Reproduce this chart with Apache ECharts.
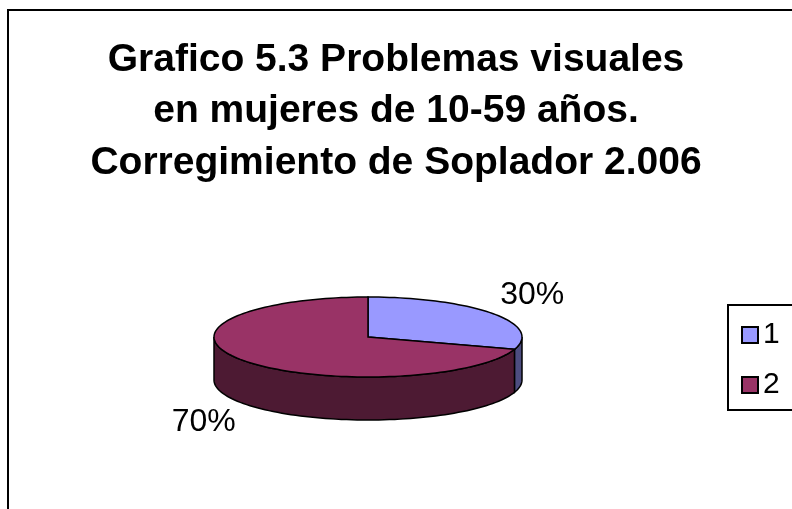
<!DOCTYPE html>
<html>
<head>
<meta charset="utf-8">
<script src="https://cdn.jsdelivr.net/npm/echarts@6/dist/echarts.min.js"></script>
<style>
  html, body { margin: 0; padding: 0; background: #fff; }
  #chart { width: 792px; height: 509px; }
</style>
</head>
<body>
<div id="chart"></div>
<script>
// chart data
const categories = ['1', '2'];
const values = [30, 70];
const topColors = ['#9999FF', '#993366'];
const sideColors = ['#4D4D80', '#4D1A33'];

const titleText = 'Grafico 5.3 Problemas visuales\nen mujeres de 10-59 años.\nCorregimiento de Soplador 2.006';

const total = values.reduce((a, b) => a + b, 0);
let acc = 0;
const slices = values.map(v => {
  const s = acc / total;
  acc += v;
  return [s, v / total];
});

// pie geometry (pixels)
const cx = 368, cy = 337, rx = 154, ry = 40, depth = 43;
const FONT = '"Liberation Sans", Arial, sans-serif';

function pt(deg, dy) {
  const a = deg * Math.PI / 180;
  return [cx + rx * Math.sin(a), cy - ry * Math.cos(a) + (dy || 0)];
}

function arc(from, to, dy) {
  const pts = [];
  const n = Math.max(2, Math.ceil(Math.abs(to - from) / 2));
  for (let i = 0; i <= n; i++) {
    pts.push(pt(from + (to - from) * i / n, dy));
  }
  return pts;
}

function makeRender(idx) {
  return function (params, api) {
    const a0 = api.value(0) * 360;
    const a1 = a0 + api.value(1) * 360;
    const children = [];
    // front side wall (only 90..270 visible)
    const s0 = Math.max(a0, 90), s1 = Math.min(a1, 270);
    if (s1 > s0) {
      const top = arc(s0, s1, 0);
      const bot = arc(s1, s0, depth);
      children.push({
        type: 'polygon',
        z2: 1,
        shape: { points: top.concat(bot) },
        style: { fill: sideColors[idx], stroke: '#000', lineWidth: 1.5 }
      });
    }
    // top face
    children.push({
      type: 'polygon',
      z2: 10,
      shape: { points: [[cx, cy]].concat(arc(a0, a1, 0)) },
      style: { fill: topColors[idx], stroke: '#000', lineWidth: 1.5 }
    });
    // label
    const mid = (a0 + a1) / 2 * Math.PI / 180;
    const lx = cx + 203 * Math.sin(mid);
    let ly = cy - 72 * Math.cos(mid);
    if (Math.cos(mid) < 0) ly += depth;
    children.push({
      type: 'text',
      z2: 20,
      style: {
        text: Math.round(api.value(1) * 100) + '%',
        x: lx, y: ly,
        align: 'center', verticalAlign: 'middle',
        font: '32px ' + FONT,
        fill: '#000'
      }
    });
    return { type: 'group', children: children };
  };
}

const chart = echarts.init(document.getElementById('chart'));
chart.setOption({
  backgroundColor: '#fff',
  animation: false,
  title: {
    text: titleText,
    left: 'center',
    top: 29,
    textStyle: {
      fontFamily: FONT,
      fontSize: 39,
      fontWeight: 'bold',
      color: '#000',
      lineHeight: 51.5
    }
  },
  legend: {
    orient: 'vertical',
    left: 728,
    top: 305,
    data: categories,
    icon: 'rect',
    itemWidth: 16,
    itemHeight: 16,
    itemGap: 20,
    padding: [15, 60, 10, 13],
    borderColor: '#000',
    borderWidth: 2,
    itemStyle: { borderColor: '#000', borderWidth: 2 },
    textStyle: { fontFamily: FONT, fontSize: 30, color: '#000' }
  },
  graphic: [{
    type: 'rect',
    shape: { x: 8, y: 10, width: 820, height: 540 },
    style: { fill: 'none', stroke: '#000', lineWidth: 2 },
    silent: true
  }],
  series: categories.map((name, i) => ({
    type: 'custom',
    name: name,
    coordinateSystem: 'none',
    itemStyle: { color: topColors[i] },
    renderItem: makeRender(i),
    data: [slices[i]]
  }))
});
</script>
</body>
</html>
